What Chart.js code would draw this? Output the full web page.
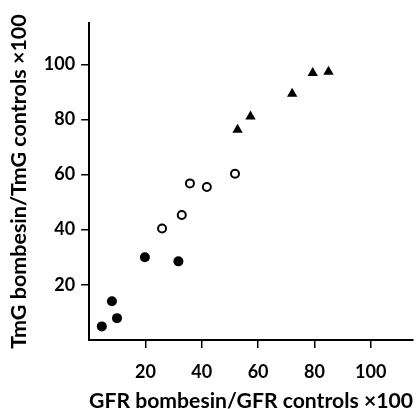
<!DOCTYPE html>
<html>
<head>
<meta charset="utf-8">
<script src="https://cdn.jsdelivr.net/npm/chart.js@4"></script>
<style>
  html, body { margin: 0; padding: 0; background: #fff; }
  #wrap { width: 419px; height: 409px; }
</style>
</head>
<body>
<div id="wrap"><canvas id="grafica"></canvas></div>
<script>
// Datos (x = GFR, y = TmG, ambos ×100)
const filledX = [4.5, 8.1, 9.9, 19.8, 31.7];
const filledY = [4.9, 14.0, 7.9, 30.0, 28.5];
const openX = [25.9, 32.9, 35.8, 41.8, 51.8];
const openY = [40.4, 45.3, 56.8, 55.5, 60.3];
const triX = [52.7, 57.3, 72.1, 79.4, 85.0];
const triY = [76.3, 81.1, 89.3, 96.9, 97.3];
const xTicks = [20, 40, 60, 80, 100];
const yTicks = [20, 40, 60, 80, 100];

function puntos(xs, ys) {
    return xs.map(function (x, i) { return { x: x, y: ys[i] }; });
}

const fuente = "Lato, 'DejaVu Sans', sans-serif";

new Chart(document.getElementById("grafica"), {
    type: "scatter",
    data: {
        datasets: [
            {
                data: puntos(filledX, filledY),
                pointStyle: "circle",
                pointRadius: 5,
                backgroundColor: "#000",
                borderColor: "#000",
                borderWidth: 0,
            },
            {
                data: puntos(openX, openY),
                pointStyle: "circle",
                pointRadius: 4,
                backgroundColor: "#fff",
                borderColor: "#000",
                borderWidth: 2,
            },
            {
                data: puntos(triX, triY),
                pointStyle: "triangle",
                pointRadius: 6,
                backgroundColor: "#000",
                borderColor: "#000",
                borderWidth: 0,
            },
        ],
    },
    options: {
        responsive: true,
        maintainAspectRatio: false,
        animation: false,
        layout: { padding: { top: 23, right: 6, bottom: -3, left: 6 } },
        plugins: { legend: { display: false }, tooltip: { enabled: false } },
        scales: {
            x: {
                type: "linear",
                min: 0,
                max: 115,
                afterBuildTicks: function (scale) {
                    scale.ticks = xTicks.map(function (v) { return { value: v }; });
                },
                border: { display: true, color: "#000", width: 2 },
                grid: { drawOnChartArea: false, drawTicks: true, tickLength: 8, color: "#000", lineWidth: 1.5 },
                ticks: { color: "#000", padding: 13, maxRotation: 0, font: { family: fuente, size: 18, weight: "bold" } },
                title: {
                    display: true,
                    text: "GFR bombesin/GFR controls ×100",
                    color: "#000",
                    padding: { top: -5, bottom: 0 },
                    font: { family: fuente, size: 21.5, weight: "bold", lineHeight: 1 },
                },
            },
            y: {
                type: "linear",
                min: 0,
                max: 115,
                afterBuildTicks: function (scale) {
                    scale.ticks = yTicks.map(function (v) { return { value: v }; });
                },
                border: { display: true, color: "#000", width: 2 },
                grid: { drawOnChartArea: false, drawTicks: true, tickLength: 8, color: "#000", lineWidth: 1.5 },
                ticks: { color: "#000", padding: 6, font: { family: fuente, size: 18, weight: "bold" } },
                title: {
                    display: true,
                    text: "TmG bombesin/TmG controls ×100",
                    color: "#000",
                    padding: { top: 0, bottom: 6 },
                    font: { family: fuente, size: 21.5, weight: "bold" },
                },
            },
        },
    },
});
</script>
</body>
</html>
